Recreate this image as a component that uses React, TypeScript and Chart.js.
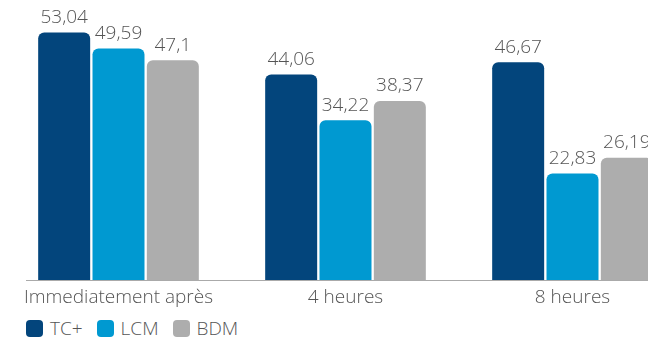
import React, { useEffect, useRef } from "react";
import { Chart, registerables } from "chart.js";

Chart.register(...registerables);

const categories = ["Immediatement après", "4 heures", "8 heures"];
const seriesNames = ["TC+", "LCM", "BDM"];
const tcPlus = [53.04, 44.06, 46.67];
const lcm = [49.59, 34.22, 22.83];
const bdm = [47.1, 38.37, 26.19];
const seriesColors = ["#03457c", "#0099d1", "#adadad"];

const TEXT_COLOR = "#555555";
const FONT = "'Open Sans', 'DejaVu Sans', sans-serif";
const CANVAS_W = 700;
const CANVAS_H = 310;

const formatValue = (v: number) => String(v).replace(".", ",");

// Writes each bar's value above it
const valueLabels = {
  id: "valueLabels",
  afterDatasetsDraw(chart: any) {
    const ctx = chart.ctx;
    ctx.save();
    ctx.font = `300 19px ${FONT}`;
    ctx.fillStyle = TEXT_COLOR;
    ctx.textAlign = "center";
    ctx.textBaseline = "alphabetic";
    chart.data.datasets.forEach((ds: any, i: number) => {
      const meta = chart.getDatasetMeta(i);
      meta.data.forEach((bar: any, j: number) => {
        ctx.fillText(formatValue(ds.data[j]), bar.x, bar.y - 9.5);
      });
    });
    ctx.restore();
  },
};

// Baseline under the bars
const baseLine = {
  id: "baseLine",
  beforeDatasetsDraw(chart: any) {
    const ctx = chart.ctx;
    const y = Math.round(chart.chartArea.bottom) + 0.5;
    ctx.save();
    ctx.strokeStyle = "#aaaaaa";
    ctx.lineWidth = 1;
    ctx.beginPath();
    ctx.moveTo(26, y);
    ctx.lineTo(chart.width, y);
    ctx.stroke();
    ctx.restore();
  },
};

function BarChart() {
  const canvasRef = useRef<HTMLCanvasElement | null>(null);

  useEffect(() => {
    const canvas = canvasRef.current;
    if (!canvas) return;
    const values = [tcPlus, lcm, bdm];
    const chart = new Chart(canvas, {
      type: "bar",
      data: {
        labels: categories,
        datasets: seriesNames.map((name, i) => ({
          label: name,
          data: values[i],
          backgroundColor: seriesColors[i],
          borderWidth: 0,
          borderRadius: { topLeft: 6, topRight: 6, bottomLeft: 0, bottomRight: 0 },
          borderSkipped: false,
          barPercentage: 0.957,
          categoryPercentage: 0.718,
        })),
      },
      options: {
        responsive: false,
        animation: false,
        devicePixelRatio: 1,
        layout: { padding: { left: 5, right: 14, top: 0, bottom: 0 } },
        plugins: {
          legend: { display: false },
          tooltip: { enabled: false },
        },
        scales: {
          y: { display: false, min: 0, max: 60 },
          x: {
            grid: { display: false, drawTicks: false },
            border: { display: false },
            ticks: {
              color: TEXT_COLOR,
              font: { family: FONT, size: 19, weight: "300" },
              padding: 6,
              maxRotation: 0,
              autoSkip: false,
            },
            afterFit(scale: any) {
              scale.height = 30;
            },
          },
        },
      },
      plugins: [baseLine, valueLabels],
    });
    return () => chart.destroy();
  }, []);

  return (
    <canvas
      ref={canvasRef}
      width={CANVAS_W}
      height={CANVAS_H}
      style={{ position: "absolute", left: 0, top: 0, width: CANVAS_W, height: CANVAS_H }}
    />
  );
}

function Legend() {
  return (
    <div
      style={{
        position: "absolute",
        left: 26,
        top: 320,
        display: "flex",
        alignItems: "center",
        fontFamily: FONT,
        fontSize: 19,
        fontWeight: 300,
        color: TEXT_COLOR,
        lineHeight: "17px",
      }}
    >
      {seriesNames.map((name, i) => (
        <div key={name} style={{ display: "flex", alignItems: "center", marginRight: 14 }}>
          <span
            style={{
              display: "inline-block",
              width: 17,
              height: 17,
              borderRadius: 4,
              background: seriesColors[i],
              marginRight: 7,
            }}
          />
          <span>{name}</span>
        </div>
      ))}
    </div>
  );
}

export default function App() {
  return (
    <div style={{ position: "fixed", left: 0, top: 0, width: 648, height: 343, overflow: "hidden", background: "#fff" }}>
      <BarChart />
      <Legend />
    </div>
  );
}
